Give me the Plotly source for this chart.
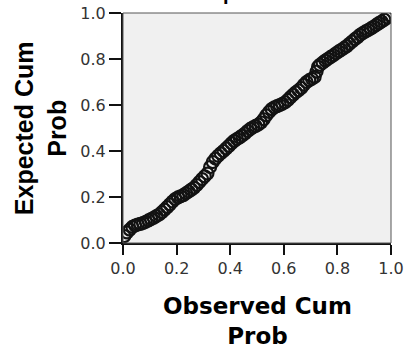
import plotly.graph_objects as go

observed_cum_prob = [
    0.005, 0.015, 0.025, 0.035, 0.045, 0.055, 0.065, 0.075, 0.085, 0.095,
    0.105, 0.115, 0.125, 0.135, 0.145, 0.155, 0.165, 0.175, 0.185, 0.195,
    0.205, 0.215, 0.225, 0.235, 0.245, 0.255, 0.265, 0.275, 0.285, 0.295,
    0.305, 0.315, 0.325, 0.335, 0.345, 0.355, 0.365, 0.375, 0.385, 0.395,
    0.405, 0.415, 0.425, 0.435, 0.445, 0.455, 0.465, 0.475, 0.485, 0.495,
    0.505, 0.515, 0.525, 0.535, 0.545, 0.555, 0.565, 0.575, 0.585, 0.595,
    0.605, 0.615, 0.625, 0.635, 0.645, 0.655, 0.665, 0.675, 0.685, 0.695,
    0.705, 0.715, 0.722, 0.728, 0.735, 0.745, 0.755, 0.765, 0.775, 0.785,
    0.795, 0.805, 0.815, 0.825, 0.835, 0.845, 0.855, 0.865, 0.875, 0.885,
    0.895, 0.905, 0.915, 0.925, 0.935, 0.945, 0.955, 0.965, 0.975, 0.985,
    0.995,
]
expected_cum_prob = [
    0.030, 0.046, 0.058, 0.070, 0.076, 0.080, 0.083, 0.087, 0.092, 0.098,
    0.104, 0.110, 0.117, 0.124, 0.134, 0.145, 0.156, 0.168, 0.180, 0.191,
    0.198, 0.203, 0.208, 0.216, 0.224, 0.232, 0.240, 0.252, 0.265, 0.278,
    0.290, 0.302, 0.330, 0.352, 0.367, 0.379, 0.390, 0.400, 0.411, 0.422,
    0.434, 0.444, 0.452, 0.459, 0.467, 0.476, 0.487, 0.496, 0.503, 0.509,
    0.515, 0.524, 0.538, 0.555, 0.570, 0.582, 0.590, 0.595, 0.600, 0.605,
    0.612, 0.622, 0.634, 0.645, 0.655, 0.664, 0.674, 0.688, 0.700, 0.708,
    0.714, 0.722, 0.745, 0.766, 0.775, 0.784, 0.793, 0.801, 0.809, 0.816,
    0.825, 0.833, 0.840, 0.848, 0.856, 0.866, 0.876, 0.886, 0.895, 0.905,
    0.913, 0.920, 0.926, 0.933, 0.940, 0.948, 0.956, 0.963, 0.971, 0.980,
    0.990,
]
tick_vals = [0.0, 0.2, 0.4, 0.6, 0.8, 1.0]
tick_text = ["0.0", "0.2", "0.4", "0.6", "0.8", "1.0"]
x_title = "Observed Cum<br>Prob"
y_title = "Expected Cum<br>Prob"
title_fragment = "p"

W, H = 406, 350
L, R, T, B = 123, 14.5, 12.5, 106.5
ph = H - T - B
pw = W - L - R

def py(pix):
    return (H - B - pix) / ph

def px(pix):
    return (pix - L) / pw

fig = go.Figure()
fig.add_trace(go.Scatter(
    x=observed_cum_prob, y=expected_cum_prob, mode="markers",
    marker=dict(symbol="circle-open", size=12, color="#121212",
                line=dict(width=2.2, color="#121212")),
    showlegend=False, hoverinfo="skip",
))

tickfont = dict(family="DejaVu Sans", size=16, color="#333333")
fig.update_xaxes(range=[0, 1], tickvals=tick_vals, ticktext=tick_text,
                 ticks="outside", ticklen=10, tickwidth=1.5, tickcolor="#111",
                 showline=True, linecolor="#111", linewidth=2,
                 showgrid=False, zeroline=False, tickfont=tickfont,
                 automargin=False)
fig.update_yaxes(range=[0, 1], tickvals=tick_vals, ticktext=tick_text,
                 ticks="outside", ticklen=12, tickwidth=1.5, tickcolor="#111",
                 showline=True, linecolor="#111", linewidth=2,
                 showgrid=False, zeroline=False, tickfont=tickfont,
                 ticklabelstandoff=0, automargin=False)

fig.add_shape(type="rect", xref="paper", yref="paper", x0=0, y0=0, x1=1, y1=1,
              line=dict(color="#555555", width=1), layer="above")

xfont = dict(family="DejaVu Sans", size=23, color="#000", weight="bold")
fig.add_annotation(text=x_title, xref="paper", yref="paper",
                   x=px(257.5), y=py(322), showarrow=False, font=xfont,
                   xanchor="center", yanchor="middle")

yfont = dict(family="Liberation Sans", size=25, color="#000", weight="bold")
fig.add_annotation(text=y_title, xref="paper", yref="paper",
                   x=px(40), y=py(128), showarrow=False, font=yfont,
                   textangle=-90, xanchor="center", yanchor="middle")

fig.add_annotation(text=title_fragment, xref="paper", yref="paper",
                   x=px(229), y=py(5), showarrow=False,
                   font=dict(family="Liberation Sans", size=20, color="#000",
                             weight="bold"),
                   xanchor="center", yanchor="bottom")

fig.update_layout(
    width=W, height=H,
    margin=dict(l=L, r=R, t=T, b=B, pad=0),
    plot_bgcolor="#f0f0f0", paper_bgcolor="#ffffff",
)

fig.write_html("out.html",
               config={"displayModeBar": False},
               post_script="document.body.style.margin='0px';"
                           "document.body.style.padding='0px';")
